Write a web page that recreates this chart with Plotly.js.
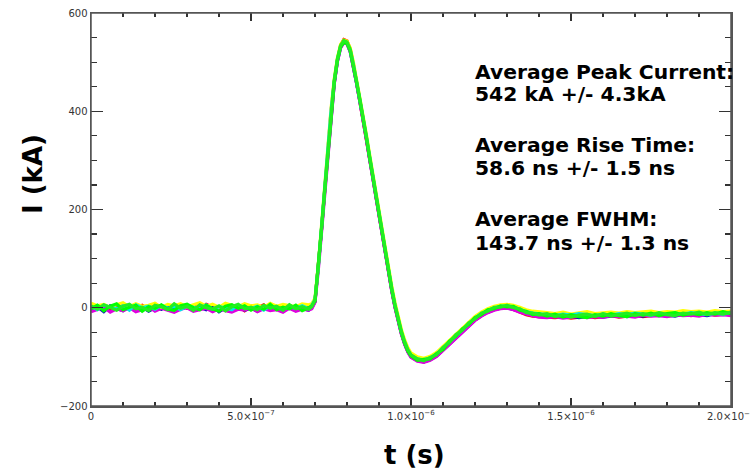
<!DOCTYPE html>
<html>
<head>
<meta charset="utf-8">
<script src="https://cdn.plot.ly/plotly-3.0.1.min.js"></script>
<style>html,body{margin:0;padding:0;background:#fff;}#chart{width:750px;height:469px;}</style>
</head>
<body>
<div id="chart"></div>
<script>
// time in microseconds
const t_us = [
  0,0.02,0.04,0.06,0.08,0.10,0.12,0.14,0.16,0.18,0.20,0.22,0.24,0.26,0.28,0.30,0.32,0.34,0.36,0.38,0.40,0.42,0.44,0.46,0.48,0.50,0.52,0.54,0.56,0.58,0.60,0.62,0.64,0.66,0.68,
  0.69,0.70,0.71,0.72,0.73,0.74,0.75,0.76,0.77,0.78,0.79,0.80,0.81,0.82,0.83,0.84,0.85,0.86,0.87,0.88,0.89,0.90,0.91,0.92,0.93,0.94,0.95,0.96,0.97,0.98,0.99,1.00,
  1.02,1.04,1.06,1.08,1.10,1.12,1.14,1.16,1.18,1.20,1.22,1.24,1.26,1.28,1.30,1.32,1.34,1.36,1.38,1.40,
  1.425,1.45,1.475,1.5,1.525,1.55,1.575,1.6,1.625,1.65,1.675,1.7,1.725,1.75,1.775,1.8,1.825,1.85,1.875,1.9,1.925,1.95,1.975,2.0
];
// current (kA) per shot
const shot_red = [
  7,-1,3,-6,2,6,-3,0,5,-4,8,-2,3,-7,6,-1,4,-3,7,1,-5,5,-2,3,-6,4,0,6,-4,2,-1,5,-5,3,1,
  1,13,77,157,238,319,399,459,505,534,546,543,527,496,459,422,387,347,307,268,228,188,148,108,70,35,2,-27,-52,-72,-88,-99,
  -106,-110,-105,-97,-84,-72,-59,-47,-35,-24,-15,-8,-3,-1,0,-3,-8,-14,-17,-18,
  -19,-20,-18,-21,-19,-17,-20,-18,-16,-19,-17,-15,-18,-16,-14,-17,-15,-13,-16,-14,-12,-15,-13,-12
];
const shot_blue = [
  -5,2,-8,4,-1,-6,3,-4,1,-7,0,-3,5,-5,-2,2,-6,1,-4,3,-8,0,-3,4,-5,-1,-7,2,-3,0,-6,3,-4,-1,-5,
  0,12,76,156,236,316,396,456,502,530,541,538,522,492,457,422,387,347,307,267,227,187,147,107,69,35,2,-28,-52,-73,-89,-100,
  -108,-110,-106,-98,-86,-73,-60,-48,-36,-25,-16,-9,-4,-1,0,-3,-7,-12,-15,-17,
  -18,-16,-19,-17,-20,-18,-16,-19,-17,-15,-18,-16,-17,-14,-16,-15,-17,-13,-15,-14,-16,-12,-14,-13
];
const shot_magenta = [
  -8,-3,1,-9,-2,-6,0,-8,-4,2,-7,-1,-5,-9,-3,0,-7,-4,-1,-8,-2,-6,-9,-3,-5,0,-8,-2,-6,-4,-9,-1,-7,-3,-5,
  -2,11,74,154,234,314,394,455,501,529,539,537,521,491,456,420,385,345,305,265,225,185,145,105,67,33,0,-30,-54,-74,-90,-101,
  -109,-111,-107,-99,-87,-74,-61,-49,-37,-26,-17,-10,-5,-2,-1,-4,-9,-13,-16,-19,
  -20,-18,-21,-19,-17,-20,-18,-19,-16,-18,-17,-19,-15,-17,-16,-18,-14,-16,-15,-17,-13,-15,-14,-16
];
const shot_yellow = [
  9,4,7,1,6,10,2,8,3,5,9,1,7,4,8,2,6,10,3,7,1,9,5,2,8,4,6,1,9,3,7,5,2,8,6,
  8,20,85,165,246,326,405,465,509,536,545,543,529,500,465,430,395,355,315,276,236,196,156,116,78,44,11,-19,-44,-65,-81,-92,
  -100,-103,-99,-91,-79,-66,-53,-41,-29,-18,-9,-2,3,6,7,5,1,-4,-7,-9,
  -10,-12,-9,-13,-11,-8,-12,-10,-9,-11,-8,-10,-9,-7,-10,-8,-9,-6,-8,-7,-9,-6,-8,-7
];
const shot_cyan = [
  3,-4,5,1,-2,4,-5,6,0,3,-3,5,-1,2,-4,4,1,-2,6,-3,2,0,-4,5,1,-2,3,-5,4,0,-3,2,-1,4,-2,
  5,17,81,161,241,321,400,460,505,532,541,539,524,495,460,425,390,350,310,270,230,190,150,110,72,38,5,-25,-50,-70,-86,-97,
  -104,-106,-102,-94,-82,-69,-56,-44,-32,-21,-12,-5,0,3,4,2,-3,-8,-11,-13,
  -14,-16,-13,-15,-12,-14,-16,-13,-15,-12,-14,-11,-13,-15,-12,-14,-11,-13,-10,-12,-14,-11,-13,-10
];
const shot_green_b = [
  -2,5,-6,3,8,-4,1,5,-7,2,-1,6,-3,-5,4,7,0,-4,5,-2,-7,3,6,-1,4,-5,2,-3,7,-4,1,-2,5,-6,0,
  4,14,78,158,238,318,398,458,503,531,540,538,523,493,458,423,388,348,308,268,229,188,148,108,70,36,3,-27,-51,-72,-88,-98,
  -107,-105,-104,-93,-85,-68,-58,-43,-34,-20,-14,-4,-2,4,2,3,-5,-7,-14,-12,
  -17,-13,-19,-14,-18,-20,-14,-17,-12,-16,-18,-12,-15,-11,-16,-12,-10,-15,-11,-14,-10,-13,-8,-12
];
const shot_green_a = [
  4,-3,6,0,-5,3,7,-2,1,-6,5,2,-4,8,-1,3,-5,6,0,-3,4,-6,2,7,-2,1,-4,5,-1,3,-5,6,-2,2,-3,
  2,16,82,161,243,322,401,462,507,534,544,541,526,497,461,426,392,351,311,272,231,191,151,111,73,39,6,-24,-48,-69,-85,-96,
  -104,-108,-101,-96,-81,-71,-55,-46,-31,-23,-11,-7,1,1,5,0,-2,-10,-11,-15,
  -12,-18,-14,-19,-15,-13,-18,-12,-17,-14,-11,-16,-12,-15,-10,-14,-16,-11,-13,-9,-14,-10,-13,-9
];
const xTickVals = [0, 5e-7, 1e-6, 1.5e-6, 2e-6];
const xTickText = ['0', '5.0×10<sup>−7</sup>', '1.0×10<sup>−6</sup>', '1.5×10<sup>−6</sup>', '2.0×10<sup>−6</sup>'];
const infoLines = [
  'Average Peak Current:', '542 kA +/- 4.3kA',
  'Average Rise Time:', '58.6 ns +/- 1.5 ns',
  'Average FWHM:', '143.7 ns +/- 1.3 ns'
];

const shots = [
  {y: shot_red, c: '#ff0000'},
  {y: shot_blue, c: '#1010c0'},
  {y: shot_magenta, c: '#e000e0'},
  {y: shot_yellow, c: '#ffff00'},
  {y: shot_cyan, c: '#00e8e8'},
  {y: shot_green_b, c: '#00ff00'},
  {y: shot_green_a, c: '#22ee22'}
];
const tSec = t_us.map(v => v * 1e-6);
const traces = shots.map(s => ({
  type: 'scatter', mode: 'lines', x: tSec, y: s.y,
  line: {color: s.c, width: 3.2}, hoverinfo: 'skip', showlegend: false
}));

const W = 750, H = 469, L = 91, R = 19, T = 13, B = 63;
const pw = W - L - R, ph = H - T - B;
const linePy = [72, 94, 145, 168, 219, 243];
const annotations = infoLines.map((txt, i) => ({
  text: '<b>' + txt + '</b>', xref: 'paper', yref: 'paper',
  x: (473 - L) / pw, y: (T + ph - linePy[i]) / ph,
  xanchor: 'left', yanchor: 'middle', showarrow: false,
  font: {family: 'DejaVu Sans', size: 20.3, color: '#000'}
}));
annotations.push({
  text: '<b>I (kA)</b>', xref: 'paper', yref: 'paper',
  x: (33 - L) / pw, y: (T + ph - 174) / ph, textangle: -90,
  xanchor: 'center', yanchor: 'middle', showarrow: false,
  font: {family: 'DejaVu Sans', size: 26, color: '#000'}
});
annotations.push({
  text: '<b>t (s)</b>', xref: 'paper', yref: 'paper',
  x: (414 - L) / pw, y: (T + ph - 455) / ph,
  xanchor: 'center', yanchor: 'middle', showarrow: false,
  font: {family: 'DejaVu Sans', size: 26, color: '#000'}
});
annotations.push({
  text: xTickText[4], xref: 'paper', yref: 'paper',
  x: 1, y: (T + ph - 416) / ph,
  xanchor: 'center', yanchor: 'middle', showarrow: false,
  font: {family: 'DejaVu Sans', size: 10, color: '#333'}
});

const axCommon = {
  showgrid: false, zeroline: false, showline: true, linecolor: '#555', linewidth: 1.5,
  ticks: 'inside', tickcolor: '#333', tickwidth: 1.3,
  tickfont: {family: 'DejaVu Sans', size: 10, color: '#333'}
};
const xMinor = {tickmode: 'linear', tick0: 0, dtick: 1e-7, ticks: 'inside', ticklen: 4, tickcolor: '#333', tickwidth: 1.2};
const yMinor = {tickmode: 'linear', tick0: -200, dtick: 50, ticks: 'inside', ticklen: 6, tickcolor: '#333', tickwidth: 1.2};
const layout = {
  width: W, height: H,
  margin: {l: L, r: R, t: T, b: B},
  paper_bgcolor: '#fff', plot_bgcolor: '#fff',
  showlegend: false,
  xaxis: Object.assign({}, axCommon, {
    range: [0, 2e-6], tickmode: 'array', tickvals: xTickVals.slice(0, 4), ticktext: xTickText.slice(0, 4),
    ticklen: 8, minor: xMinor
  }),
  xaxis2: Object.assign({}, axCommon, {
    overlaying: 'x', side: 'top', anchor: 'y',
    range: [0, 2e-6], tickmode: 'array', tickvals: xTickVals, showticklabels: false,
    ticklen: 8, minor: xMinor
  }),
  yaxis: Object.assign({}, axCommon, {
    range: [-200, 600], tickmode: 'linear', tick0: -200, dtick: 200,
    ticklen: 12, minor: yMinor
  }),
  yaxis2: Object.assign({}, axCommon, {
    overlaying: 'y', side: 'right', anchor: 'x',
    range: [-200, 600], tickmode: 'linear', tick0: -200, dtick: 200, showticklabels: false,
    ticklen: 12, minor: yMinor
  }),
  shapes: [{type: 'rect', xref: 'paper', yref: 'paper', x0: 0, x1: 1, y0: 0, y1: 1,
            line: {color: '#555', width: 1.5}, layer: 'above'}],
  annotations: annotations
};
// invisible helper traces so the mirrored axes are drawn
traces.push({type: 'scatter', mode: 'lines', x: [0, 2e-6], y: [0, 0], xaxis: 'x2', yaxis: 'y2',
             line: {width: 0, color: 'rgba(0,0,0,0)'}, hoverinfo: 'skip', showlegend: false});
Plotly.newPlot('chart', traces, layout, {staticPlot: true, displayModeBar: false});
</script>
</body>
</html>
